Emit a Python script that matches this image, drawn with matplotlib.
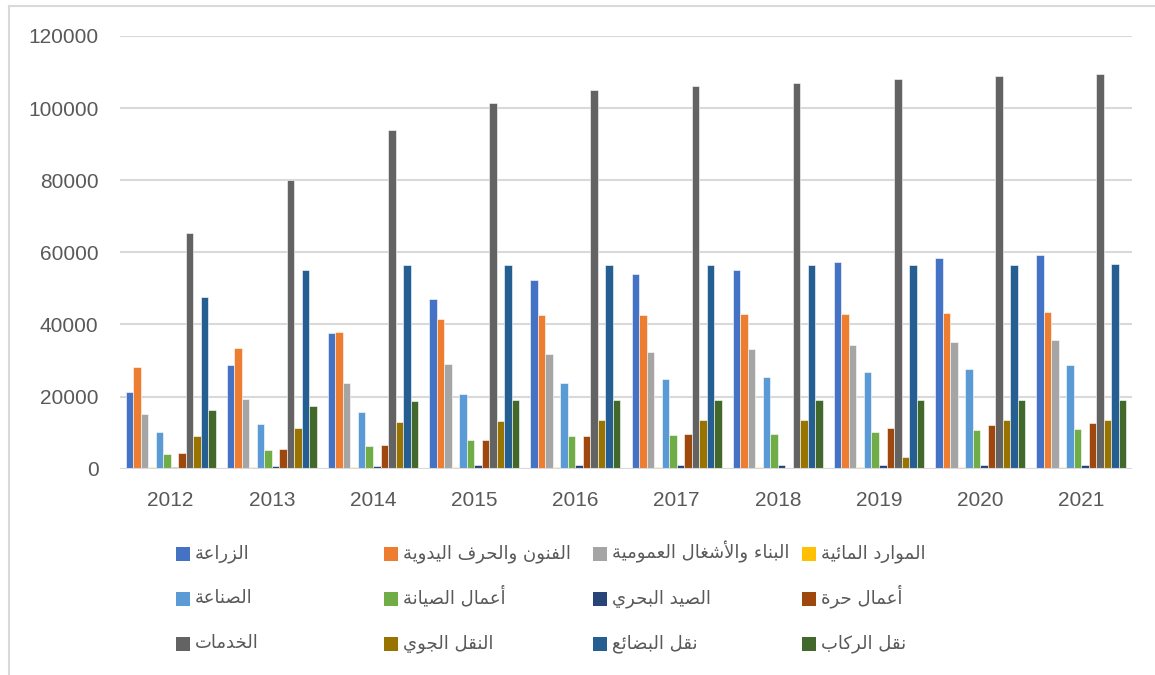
import numpy as np
import matplotlib
matplotlib.use("Agg")
import matplotlib.pyplot as plt
from matplotlib.patches import Rectangle
from matplotlib.lines import Line2D

years = ['2012', '2013', '2014', '2015', '2016', '2017', '2018', '2019', '2020', '2021']

agriculture = [21300, 28700, 37600, 47200, 52300, 54050, 55150, 57250, 58550, 59350]
crafts = [28250, 33450, 37850, 41500, 42500, 42500, 42800, 42950, 43150, 43450]
construction = [15100, 19350, 23750, 28950, 31800, 32450, 33100, 34300, 35100, 35700]
water = [450, 480, 500, 520, 540, 550, 560, 570, 580, 590]
industry = [10200, 12400, 15700, 20650, 23800, 24800, 25450, 26750, 27650, 28850]
maintenance = [4100, 5200, 6350, 8000, 9050, 9250, 9600, 10200, 10700, 11050]
fishing = [600, 700, 800, 900, 1000, 1000, 1000, 1000, 1050, 1050]
freelance = [4450, 5470, 6640, 8000, 9050, 9600, 300, 11300, 12150, 12700]
services = [65400, 80200, 94000, 101500, 104900, 106200, 107000, 108000, 108800, 109500]
air = [9200, 11350, 13000, 13300, 13400, 13400, 13450, 3300, 13450, 13450]
freight = [47500, 55000, 56450, 56500, 56450, 56450, 56500, 56500, 56500, 56700]
passengers = [16300, 17450, 18700, 19000, 19000, 19000, 19000, 19000, 19000, 19000]

names = [
    'الزراعة', 'الفنون والحرف اليدوية', 'البناء والأشغال العمومية', 'الموارد المائية',
    'الصناعة', 'أعمال الصيانة', 'الصيد البحري', 'أعمال حرة',
    'الخدمات', 'النقل الجوي', 'نقل البضائع', 'نقل الركاب',
]
series = [agriculture, crafts, construction, water, industry, maintenance,
          fishing, freelance, services, air, freight, passengers]
colors = ['#4472C4', '#ED7D31', '#A5A5A5', '#FFC000', '#5B9BD5', '#70AD47',
          '#264478', '#9E480E', '#636363', '#997300', '#255E91', '#43682B']

# --- minimal arabic shaping (matplotlib has no complex text layout) ---
DUAL = {'ئ': 0xFE89, 'ب': 0xFE8F, 'ت': 0xFE95, 'ج': 0xFE9D, 'ح': 0xFEA1,
        'خ': 0xFEA5, 'ش': 0xFEB5, 'ص': 0xFEB9, 'ض': 0xFEBD, 'ع': 0xFEC9,
        'غ': 0xFECD, 'ف': 0xFED1, 'ق': 0xFED5, 'ك': 0xFED9, 'ل': 0xFEDD,
        'م': 0xFEE1, 'ن': 0xFEE5, 'ي': 0xFEF1}
RIGHT = {'أ': 0xFE83, 'ا': 0xFE8D, 'ة': 0xFE93, 'د': 0xFEA9, 'ر': 0xFEAD,
         'ز': 0xFEAF, 'و': 0xFEED}
NONE = {'ء': 0xFE80}
LAMALEF = {'ا': 0xFEFB, 'أ': 0xFEF7}


def shape_ar(s):
    toks = []
    i = 0
    while i < len(s):
        if s[i] == 'ل' and i + 1 < len(s) and s[i + 1] in LAMALEF:
            toks.append(('LA', s[i + 1]))
            i += 2
        else:
            toks.append((s[i], None))
            i += 1

    def joins(t):
        return t is not None and (t[0] in DUAL or t[0] in RIGHT or t[0] == 'LA')

    out = []
    for k, t in enumerate(toks):
        prev = toks[k - 1] if k > 0 else None
        nxt = toks[k + 1] if k + 1 < len(toks) else None
        p = prev is not None and prev[0] in DUAL
        c = t[0]
        if c == 'LA':
            out.append(chr(LAMALEF[t[1]] + (1 if p else 0)))
        elif c in DUAL:
            n = joins(nxt)
            off = {(False, False): 0, (True, False): 1, (False, True): 2, (True, True): 3}[(p, n)]
            out.append(chr(DUAL[c] + off))
        elif c in RIGHT:
            out.append(chr(RIGHT[c] + (1 if p else 0)))
        elif c in NONE:
            out.append(chr(NONE[c]))
        else:
            out.append(c)
    return ''.join(reversed(out))


W, H = 1155, 675
fig = plt.figure(figsize=(W / 100, H / 100), dpi=100)
ax = fig.add_axes([120 / W, 1 - 468.7 / H, (1132 - 120) / W, (468.7 - 36) / H])

txt = '#595959'
grid = '#D9D9D9'
x = np.arange(len(years))
n = len(series)
bw = 0.89 / n
for i, (vals, col) in enumerate(zip(series, colors)):
    ax.bar(x + (i - (n - 1) / 2) * bw, vals, width=bw, color=col,
           edgecolor='white', linewidth=0.4, zorder=3)

ax.set_xlim(-0.5, len(years) - 0.5)
ax.set_ylim(0, 120000)
ax.set_yticks(np.arange(0, 120001, 20000))
ax.set_yticklabels([str(v) for v in range(0, 120001, 20000)])
ax.set_xticks(x)
ax.set_xticklabels(years)
ax.yaxis.grid(True, color=grid, linewidth=1.5, zorder=0)
ax.tick_params(length=0, labelsize=15, labelcolor=txt)
ax.tick_params(axis='y', pad=15.5)
ax.tick_params(axis='x', pad=16)
for lab in ax.get_xticklabels() + ax.get_yticklabels():
    lab.set_family(['Liberation Sans', 'DejaVu Sans'])
for sp in ax.spines.values():
    sp.set_visible(False)
ax.axhline(0, color=grid, linewidth=1.5, zorder=4)

# legend, 4 equal columns filled row by row like the original
col_x = [176, 384, 593, 802]
row_y = [554, 599, 644]
for i, (name, col) in enumerate(zip(names, colors)):
    cx = col_x[i % 4]
    cy = row_y[i // 4]
    fig.add_artist(Rectangle((cx / W, 1 - (cy + 7) / H), 14 / W, 14 / H,
                             transform=fig.transFigure, color=col, lw=0))
    fig.text((cx + 19) / W, 1 - (cy + 4) / H, shape_ar(name), color=txt,
             fontsize=13, family=['DejaVu Sans'], ha='left', va='baseline')

# chart area border (left/top visible)
fig.add_artist(Line2D([8.5 / W, 8.5 / W], [0, 1 - 5.5 / H], transform=fig.transFigure,
                      color=grid, linewidth=1.5))
fig.add_artist(Line2D([8.5 / W, 1], [1 - 5.5 / H, 1 - 5.5 / H], transform=fig.transFigure,
                      color=grid, linewidth=1.5))

fig.savefig('out.png', dpi=100)
